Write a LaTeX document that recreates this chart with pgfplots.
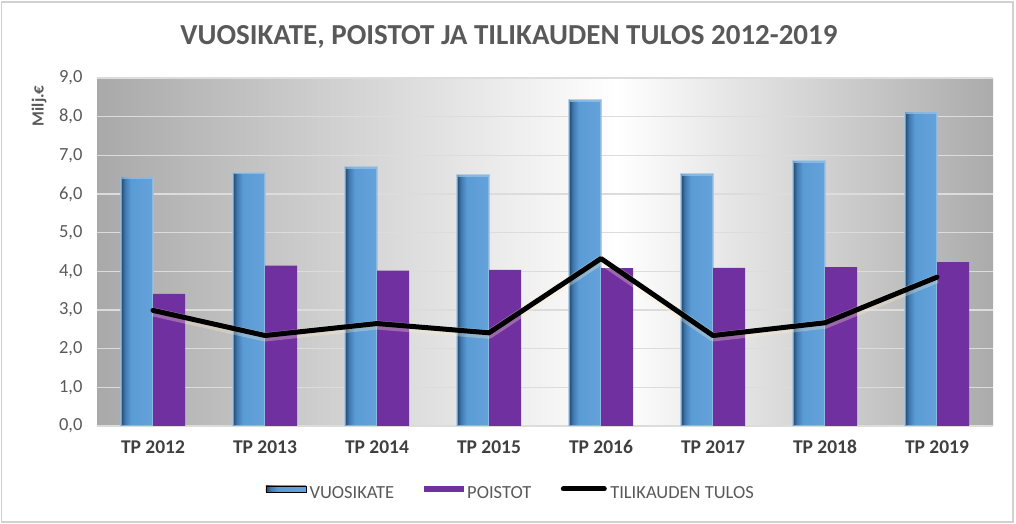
\documentclass[border=0pt]{standalone}
\usepackage{pgfplots}
\pgfplotsset{compat=1.18}
\usepackage{fontspec}
\setmainfont{Carlito}
\definecolor{txt}{HTML}{595959}
\definecolor{xtxt}{HTML}{404040}
\definecolor{vuosi}{HTML}{5B9BD5}
\definecolor{vuosidk}{HTML}{24476B}
\definecolor{vuosimd}{HTML}{3F78B0}
\definecolor{vuosilt}{HTML}{64A2DA}
\definecolor{poist}{HTML}{7030A0}
\definecolor{gridc}{HTML}{DCDCDC}
\definecolor{bgl}{HTML}{A9A9A9}
\definecolor{bgr}{HTML}{ABABAB}
\definecolor{glow}{HTML}{9CC3E6}
\pgfdeclarehorizontalshading{barshade}{100bp}{color(0bp)=(vuosidk); color(25bp)=(vuosidk); color(31bp)=(vuosimd); color(40bp)=(vuosi); color(75bp)=(vuosilt); color(100bp)=(vuosilt)}
\pgfdeclarehorizontalshading{bgshade}{100bp}{color(0bp)=(bgl); color(25bp)=(bgl); color(54bp)=(white); color(75bp)=(bgr); color(100bp)=(bgr)}
\pgfplotsset{vbar/.style={ybar, bar width=32bp, bar shift=-16bp, shading=barshade, draw=glow, draw opacity=0.7, line width=2.5bp, forget plot}}
\begin{document}
\begin{tikzpicture}
\path[use as bounding box] (0,0) rectangle (1016bp,524bp);
\draw[color=black!18, line width=1.2bp] (1.5bp,2bp) rectangle (1013bp,522bp);
\node[font=\bfseries\fontsize{29bp}{32bp}\selectfont, text=txt, anchor=base] at (509bp,479bp) {VUOSIKATE, POISTOT JA TILIKAUDEN TULOS 2012-2019};
\begin{axis}[
  at={(97bp,98bp)}, anchor=south west,
  scale only axis, width=896bp, height=348bp,
  xmin=-0.5, xmax=7.5, ymin=0, ymax=9,
  xtick={0,1,2,3,4,5,6,7},
  xticklabels={TP 2012,TP 2013,TP 2014,TP 2015,TP 2016,TP 2017,TP 2018,TP 2019},
  ytick={0,1,2,3,4,5,6,7,8,9},
  major tick length=0pt,
  axis line style={draw=none},
  ymajorgrids, grid style={color=gridc, line width=1.5bp},
  axis background/.style={shading=bgshade},
  xticklabel style={font=\bfseries\fontsize{19.5bp}{22bp}\selectfont, text=xtxt, yshift=-11bp},
  yticklabel style={font=\fontsize{18.5bp}{21bp}\selectfont, text=txt, xshift=-11bp,
    /pgf/number format/fixed, /pgf/number format/fixed zerofill,
    /pgf/number format/precision=1, /pgf/number format/use comma,
    /pgf/number format/assume math mode=true},
  ylabel={Milj.€},
  ylabel style={font=\bfseries\fontsize{17bp}{20bp}\selectfont, text=txt, at={(axis description cs:-0.0647,0.92)}, anchor=center},
  legend columns=3,
  legend style={at={(axis description cs:0.4626,-0.1925)}, anchor=center, draw=none, fill=none,
    font=\fontsize{18.5bp}{21bp}\selectfont, text=txt,
    /tikz/every even column/.append style={column sep=26bp},
    nodes={inner xsep=3.5bp}},
]
% VUOSIKATE, one plot per bar so that each bar gets its own shading
\addplot[vbar] coordinates {(0,6.42)};
\addplot[vbar] coordinates {(1,6.54)};
\addplot[vbar] coordinates {(2,6.68)};
\addplot[vbar] coordinates {(3,6.48)};
\addplot[vbar] coordinates {(4,8.42)};
\addplot[vbar] coordinates {(5,6.50)};
\addplot[vbar] coordinates {(6,6.84)};
\addplot[vbar] coordinates {(7,8.10)};
\addlegendimage{legend image code/.code={\shade[shading=barshade] (0bp,1bp) rectangle (40bp,7bp);}}
\addlegendentry{VUOSIKATE}
\addplot[ybar, bar width=32bp, bar shift=16bp, fill=poist, draw=none,
  legend image code/.code={\fill[poist] (0bp,1bp) rectangle (40bp,7bp);}]
  coordinates {(0,3.42) (1,4.15) (2,4.02) (3,4.04) (4,4.08) (5,4.09) (6,4.11) (7,4.24)};
\addlegendentry{POISTOT}
\addplot[forget plot, color={rgb,255:red,255;green,236;blue,200}, line width=9bp, opacity=0.3, yshift=-1.5bp, line join=round]
  coordinates {(0,2.99) (1,2.34) (2,2.65) (3,2.41) (4,4.33) (5,2.34) (6,2.67) (7,3.85)};
\addplot[black, line width=5bp, line join=round, line cap=round,
  legend image code/.code={\draw[black, line width=5bp, line cap=round] (2bp,4bp) -- (43bp,4bp);}]
  coordinates {(0,2.99) (1,2.34) (2,2.65) (3,2.41) (4,4.33) (5,2.34) (6,2.67) (7,3.85)};
\addlegendentry{TILIKAUDEN TULOS}
\end{axis}
\end{tikzpicture}
\end{document}
